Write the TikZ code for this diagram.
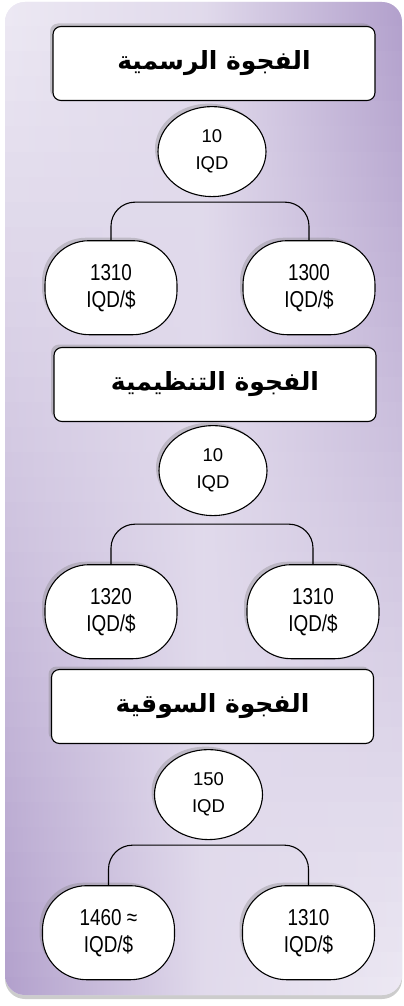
\documentclass[tikz,border=0pt]{standalone}
\usepackage{xcolor}
\usepackage{fontspec}
\usepackage{tikz}
\usetikzlibrary{positioning,shapes,shadows}
\TeXXeTstate=1
\newfontfamily\arabicfont[Script=Arabic]{DejaVu Sans}
\newfontfamily\numfont{Liberation Sans}
\newfontfamily\ratefont[FakeStretch=0.82]{Liberation Sans}
\definecolor{bglight}{RGB}{236,232,243}
\definecolor{bgdark}{RGB}{178,160,204}
\tikzstyle{gapbox}=[rectangle, draw=black, rounded corners=8pt, fill=white, line width=1.1pt,
        drop shadow={shadow xshift=-3pt, shadow yshift=3pt, opacity=0.35},
        minimum width=322pt, minimum height=74pt, inner sep=0pt,
        font=\arabicfont\bfseries\fontsize{25}{30}\selectfont]
\tikzstyle{amount}=[ellipse, draw=black, fill=white, line width=1.1pt,
        drop shadow={shadow xshift=-3pt, shadow yshift=3pt, opacity=0.35},
        minimum width=108pt, minimum height=90pt, inner sep=0pt, align=center,
        font=\numfont\fontsize{18.5}{27}\selectfont]
\tikzstyle{rate}=[rectangle, rounded corners=44pt, draw=black, fill=white, line width=1.1pt,
        drop shadow={shadow xshift=-3pt, shadow yshift=3pt, opacity=0.35},
        minimum width=132pt, minimum height=94pt, inner sep=0pt, align=center,
        font=\ratefont\fontsize{23}{27}\selectfont]
\tikzstyle{branch}=[draw=black, line width=1.1pt, rounded corners=24pt]

\begin{document}
\begin{tikzpicture}[x=1pt, y=1pt]
        \useasboundingbox (0,0) rectangle (404,-1006);
        % panel
        \fill[bglight, rounded corners=20pt,
              drop shadow={shadow xshift=0pt, shadow yshift=-4pt, opacity=0.4}]
              (5,-2) rectangle (402,-995);
        \begin{scope}
          \clip[rounded corners=20pt] (5,-2) rectangle (402,-995);
          \foreach \i in {0,...,39} {
            \pgfmathtruncatemacro\p{100*\i/39}
            \shade[left color=bgdark!\p!bglight, right color=bglight!\p!bgdark,
                   middle color=bglight!80!bgdark]
                  (5,-2-25*\i) rectangle (402,-28-25*\i);
          }
        \end{scope}

        % official gap
        \node (official) [gapbox] at (214,-63.5) {\beginR الفجوة الرسمية\endR};
        \node (officialGap) [amount, below=5pt of official, xshift=-2pt] {10\\IQD};
        \node (officialLeft) [rate, below=43pt of officialGap, xshift=-101pt] {1310\\IQD/\$};
        \node (officialRight) [rate, below=43pt of officialGap, xshift=97pt] {1300\\IQD/\$};
        \draw[branch] (officialLeft.north) |- ([yshift=-5pt]officialGap.south) -| (officialRight.north);

        % regulatory gap
        \node (regulatory) [gapbox] at (215,-384.5) {\beginR الفجوة التنظيمية\endR};
        \node (regulatoryGap) [amount, below=3pt of regulatory, xshift=-2pt] {10\\IQD};
        \node (regulatoryLeft) [rate, below=48pt of regulatoryGap, xshift=-102pt] {1320\\IQD/\$};
        \node (regulatoryRight) [rate, below=48pt of regulatoryGap, xshift=100pt] {1310\\IQD/\$};
        \draw[branch] (regulatoryLeft.north) |- ([yshift=-8pt]regulatoryGap.south) -| (regulatoryRight.north);

        % market gap
        \node (market) [gapbox] at (212.5,-706.5) {\beginR الفجوة السوقية\endR};
        \node (marketGap) [amount, below=5pt of market, xshift=-4pt] {150\\IQD};
        \node (marketLeft) [rate, below=45pt of marketGap, xshift=-100pt] {1460 ≈\\IQD/\$};
        \node (marketRight) [rate, below=45pt of marketGap, xshift=100pt] {1310\\IQD/\$};
        \draw[branch] (marketLeft.north) |- ([yshift=-5pt]marketGap.south) -| (marketRight.north);
\end{tikzpicture}
\end{document}
